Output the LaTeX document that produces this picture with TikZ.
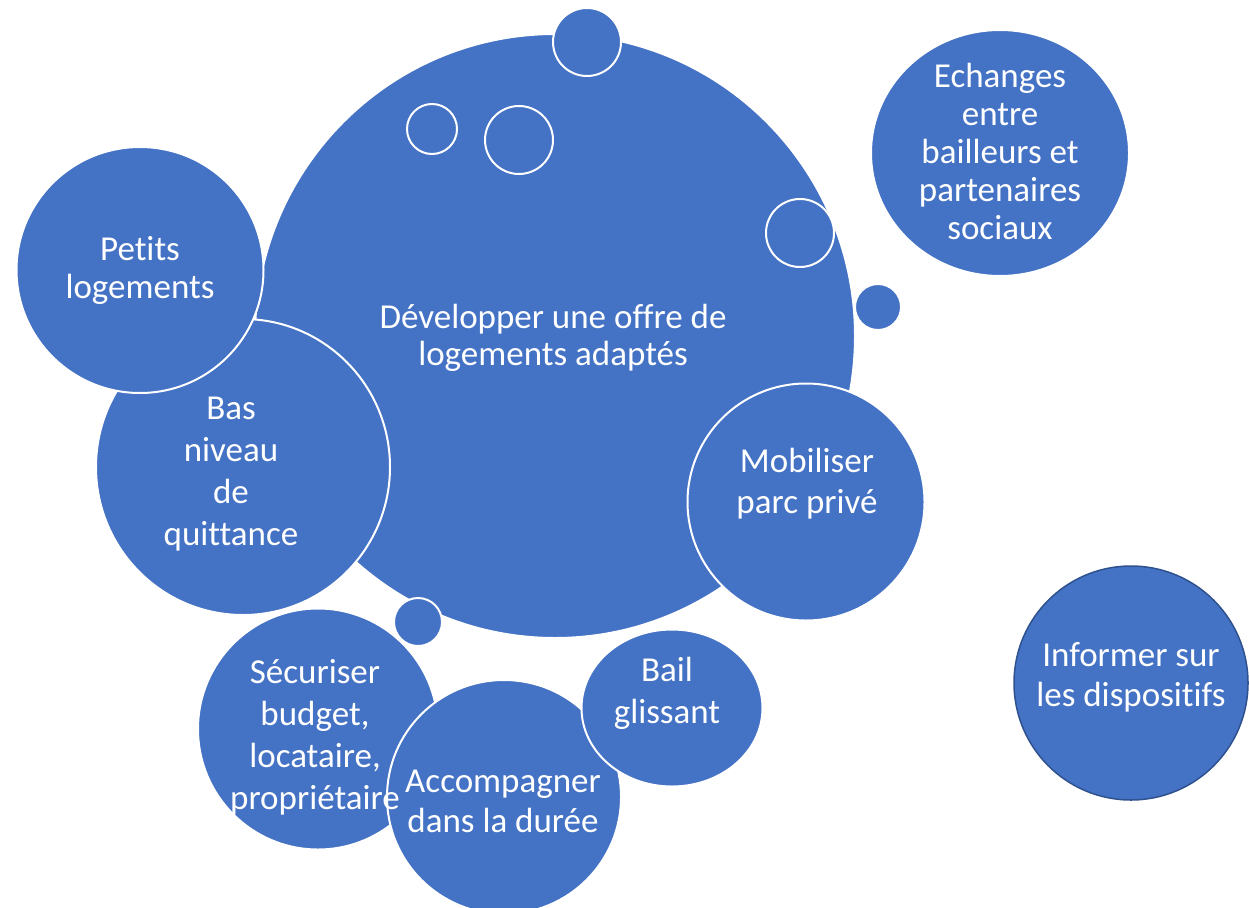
\documentclass[tikz,border=0pt]{standalone}
\usepackage{fontspec}
\setmainfont[Ligatures=CommonOff]{Carlito}
\usetikzlibrary{shapes.geometric}
\definecolor{bubble}{HTML}{4472C4}
\definecolor{rimdark}{HTML}{2F528F}
\tikzset{
  bub/.style n args={2}{ellipse, inner sep=0pt, outer sep=0pt, fill=bubble, draw=white, line width=2pt, minimum width=#1pt, minimum height=#2pt},
  txt/.style={text=white, align=center, inner sep=0pt, font=\fontsize{35}{#1}\selectfont},
}
\begin{document}
\begin{tikzpicture}[x=1pt,y=-1pt]
\useasboundingbox (0,0) rectangle (1249,907);
\clip (0,0) rectangle (1249,907);
% circles
\node[bub={600}{604}] (big) at (555,336) {};
\node[bub={68}{68}] (top) at (587,42) {};
\node[bub={50}{50}] (s1) at (432,129) {};
\node[bub={68}{68}] (s2) at (519,140) {};
\node[bub={68}{68}] (s3) at (800,233) {};
\node[bub={46}{46}] (s4) at (878,307) {};
\node[bub={258}{246}] (ech) at (1000,153) {};
\node[bub={294}{296}] (bas) at (243,467) {};
\node[bub={247}{246}] (pet) at (140,270) {};
\node[bub={237}{237}] (mob) at (806,502) {};
\node[bub={48}{48}] (s5) at (418,622) {};
\node[bub={240}{241}] (sec) at (318,729) {};
\node[bub={234}{234}] (acc) at (504,797) {};
\node[bub={181}{157}] (bail) at (672,708) {};
\node[bub={234}{234}, draw=rimdark, line width=1.5pt] (inf) at (1131,683) {};
% texts
\node[txt=37] (tdev) at (553,338) {Développer une offre de\\logements adaptés};
\node[txt=38] (tpet) at (140,270) {Petits\\logements};
\node[txt=42] (tbas) at (231,474) {Bas\\niveau\\de\\quittance};
\node[txt=38] (tech) at (1000,151) {Echanges\\entre\\bailleurs et\\partenaires\\sociaux};
\node[txt=41] (tmob) at (807,484) {Mobiliser\\parc privé};
\node[txt=40] (tinf) at (1131,677) {Informer sur\\les dispositifs};
\node[txt=42] (tsec) at (315,737) {Sécuriser\\budget,\\locataire,\\propriétaire};
\node[txt=40] (tacc) at (503,801) {Accompagner\\dans la durée};
\node[txt=42] (tbail) at (667,693) {Bail\\glissant};
\end{tikzpicture}
\end{document}
